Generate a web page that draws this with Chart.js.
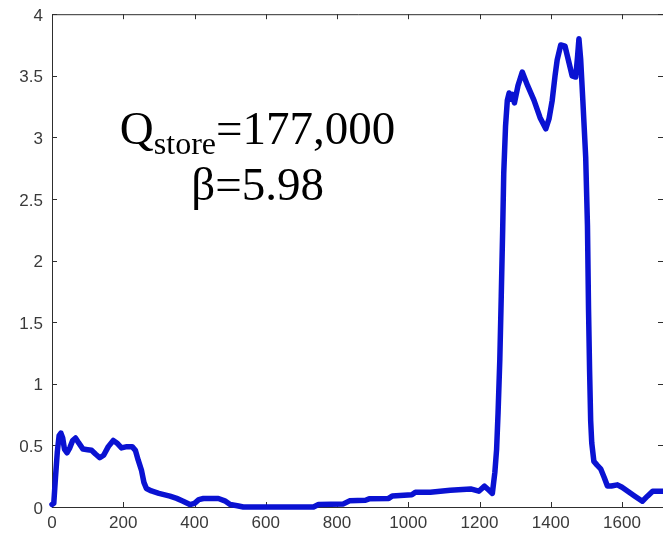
<!DOCTYPE html>
<html>
<head>
<meta charset="utf-8">
<script src="https://cdn.jsdelivr.net/npm/chart.js@4.4.0/dist/chart.umd.min.js"></script>
<style>
html,body{margin:0;padding:0;background:#ffffff;overflow:hidden;width:663px;height:540px;}
canvas{display:block;margin-top:-5px;}
</style>
</head>
<body>
<canvas id="c" width="663" height="545"></canvas>
<script>
const xValues = [0,5,10,15,20,25,30,35,42,50,58,66,75,87,100,111,122,134,145,158,172,182,195,210,225,234,242,251,258,265,279,300,331,350,368,387,400,412,425,467,485,500,520,537,600,734,748,818,835,880,890,945,955,1010,1020,1062,1118,1175,1198,1214,1225,1236,1243,1248,1252,1257,1261,1265,1268,1273,1278,1283,1287,1292,1298,1308,1320,1335,1353,1370,1386,1395,1404,1412,1418,1428,1440,1450,1460,1470,1475,1479,1484,1490,1498,1503,1506,1509,1512,1515,1521,1530,1540,1550,1559,1570,1587,1600,1615,1635,1657,1672,1686,1715];
const yValues = [0.02,0.03,0.25,0.45,0.58,0.60,0.56,0.47,0.44,0.48,0.54,0.56,0.52,0.47,0.465,0.46,0.43,0.40,0.42,0.49,0.54,0.52,0.48,0.49,0.49,0.46,0.38,0.30,0.20,0.15,0.13,0.11,0.088,0.07,0.047,0.02,0.03,0.06,0.069,0.069,0.05,0.02,0.01,0.0,0.0,0.0,0.02,0.025,0.05,0.055,0.066,0.07,0.09,0.10,0.12,0.12,0.136,0.147,0.128,0.169,0.14,0.11,0.28,0.47,0.76,1.2,1.71,2.25,2.71,3.09,3.30,3.36,3.31,3.35,3.28,3.42,3.53,3.42,3.30,3.16,3.07,3.15,3.30,3.50,3.63,3.75,3.74,3.62,3.50,3.49,3.65,3.80,3.63,3.30,2.84,2.28,1.6,1.1,0.7,0.52,0.37,0.34,0.31,0.24,0.17,0.17,0.18,0.16,0.13,0.09,0.047,0.09,0.128,0.128];
const xTickValues = [0,200,400,600,800,1000,1200,1400,1600];
const yTickValues = [0,0.5,1,1.5,2,2.5,3,3.5,4];
const annotationMain = 'Q';
const annotationSub = 'store';
const annotationRest = '=177,000';
const annotationLine2 = 'β=5.98';

const axisColor = '#2e2e2e';

const axesBox = {
  id: 'axesBox',
  beforeDatasetsDraw(chart) {
    const {ctx, chartArea: a, scales: {x, y}} = chart;
    ctx.save();
    ctx.strokeStyle = axisColor;
    ctx.lineWidth = 1;
    ctx.beginPath();
    ctx.moveTo(a.left + 0.5, a.bottom + 0.5);
    ctx.lineTo(a.left + 0.5, a.top + 0.5);
    ctx.lineTo(a.right + 2, a.top + 0.5);
    ctx.moveTo(a.left, a.bottom + 0.5);
    ctx.lineTo(a.right + 2, a.bottom + 0.5);
    xTickValues.forEach(v => {
      const px = Math.round(x.getPixelForValue(v)) + 0.5;
      ctx.moveTo(px, a.bottom); ctx.lineTo(px, a.bottom - 5);
      ctx.moveTo(px, a.top); ctx.lineTo(px, a.top + 5);
    });
    yTickValues.forEach(v => {
      const py = Math.round(y.getPixelForValue(v)) + 0.5;
      ctx.moveTo(a.left, py); ctx.lineTo(a.left + 5, py);
      ctx.moveTo(a.right, py); ctx.lineTo(a.right - 5, py);
    });
    ctx.stroke();
    ctx.restore();
  },
  afterDatasetsDraw(chart) {
    const {ctx, scales: {x, y}} = chart;
    ctx.save();
    ctx.fillStyle = '#000000';
    ctx.textBaseline = 'alphabetic';
    ctx.textAlign = 'left';
    const big = '47px "Liberation Serif", "Times New Roman", serif';
    const small = '32px "Liberation Serif", "Times New Roman", serif';
    const cx = x.getPixelForValue(577);
    const base1 = y.getPixelForValue(2.95);
    const base2 = y.getPixelForValue(2.49);
    ctx.font = big; const w1 = ctx.measureText(annotationMain).width;
    const w3 = ctx.measureText(annotationRest).width;
    ctx.font = small; const w2 = ctx.measureText(annotationSub).width;
    let sx = cx - (w1 + w2 + w3) / 2;
    ctx.font = big; ctx.fillText(annotationMain, sx, base1); sx += w1;
    ctx.font = small; ctx.fillText(annotationSub, sx, base1 + 10); sx += w2;
    ctx.font = big; ctx.fillText(annotationRest, sx, base1);
    ctx.textAlign = 'center';
    ctx.fillText(annotationLine2, cx, base2);
    ctx.restore();
  }
};

new Chart(document.getElementById('c'), {
  type: 'line',
  data: {
    datasets: [{
      data: xValues.map((v, i) => ({x: v, y: yValues[i]})),
      borderColor: '#0a12d2',
      borderWidth: 5.5,
      pointRadius: 0,
      tension: 0,
      borderJoinStyle: 'round',
      borderCapStyle: 'round',
      clip: 6
    }]
  },
  options: {
    responsive: false,
    animation: false,
    events: [],
    layout: {padding: {top: 9, right: 0, left: 0, bottom: 0}},
    plugins: {legend: {display: false}, tooltip: {enabled: false}},
    scales: {
      x: {
        type: 'linear',
        min: 0,
        max: 1715,
        afterBuildTicks: s => { s.ticks = xTickValues.map(v => ({value: v})); },
        afterFit: s => { s.height = 33; },
        grid: {display: false, drawTicks: false},
        border: {display: false},
        ticks: {
          padding: 6,
          color: '#3a3a3a',
          font: {family: '"Liberation Sans", Arial, sans-serif', size: 17},
          maxRotation: 0,
          autoSkip: false,
          callback: v => String(v)
        }
      },
      y: {
        min: 0,
        max: 4,
        afterBuildTicks: s => { s.ticks = yTickValues.map(v => ({value: v})); },
        afterFit: s => { s.width = 52; },
        grid: {display: false, drawTicks: false},
        border: {display: false},
        ticks: {
          padding: 9,
          labelOffset: 2,
          color: '#3a3a3a',
          font: {family: '"Liberation Sans", Arial, sans-serif', size: 17},
          autoSkip: false,
          callback: v => String(v)
        }
      }
    }
  },
  plugins: [axesBox]
});
</script>
</body>
</html>
